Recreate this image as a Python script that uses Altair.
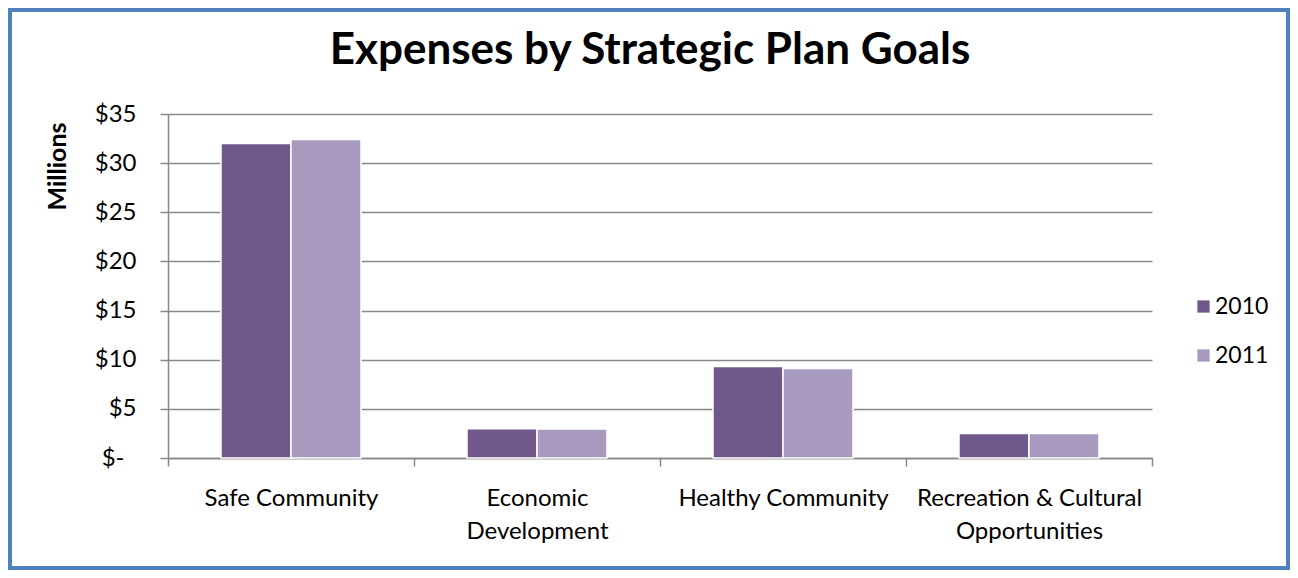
import altair as alt
import pandas as pd

categories = ["Safe Community", "Economic Development", "Healthy Community",
              "Recreation & Cultural Opportunities"]
label_lines = [["Safe Community"], ["Economic", "Development"], ["Healthy Community"],
               ["Recreation & Cultural", "Opportunities"]]
years = ["2010", "2011"]
values_2010 = [32.0, 2.97, 9.3, 2.5]
values_2011 = [32.4, 2.94, 9.1, 2.5]
y_ticks = [0, 5, 10, 15, 20, 25, 30, 35]
colors = ["#70588C", "#A89ABE"]

rows = []
for c, a, b in zip(categories, values_2010, values_2011):
    rows.append({"goal": c, "year": years[0], "value": a})
    rows.append({"goal": c, "year": years[1], "value": b})
df = pd.DataFrame(rows)

FONT = "Lato"
GRAY = "#888888"

# label expression for multi-line category labels
parts = []
for c, lines in zip(categories, label_lines):
    arr = "[" + ",".join("'" + l.replace("'", "\\'") + "'" for l in lines) + "]"
    parts.append(f"datum.label == '{c}' ? {arr} : ")
x_label_expr = "".join(parts) + "datum.label"

SP = "\u2002\u200b"

bars = alt.Chart(df).mark_bar(stroke="white", strokeWidth=1.5).encode(
    x=alt.X("goal:N", sort=categories,
            scale=alt.Scale(paddingInner=0, paddingOuter=0),
            axis=alt.Axis(title=None, labelAngle=0, labelFont=FONT, labelFontSize=24,
                          labelColor="#000000", labelPadding=20, labelLineHeight=33,
                          labelLimit=400, labelExpr=x_label_expr,
                          domainColor=GRAY, domainWidth=1.5, tickColor=GRAY,
                          tickWidth=1.5, tickSize=8, tickBand="extent", grid=False,
                          gridOpacity=0)),
    xOffset=alt.XOffset("year:N", sort=years,
                        scale=alt.Scale(paddingInner=0, paddingOuter=0.757)),
    y=alt.Y("value:Q", scale=alt.Scale(domain=[0, 35], nice=False),
            axis=alt.Axis(values=y_ticks, title="Millions",
                          labelExpr=f"datum.value == 0 ? '$-{SP}' : '$' + datum.value",
                          labelFont=FONT, labelFontSize=24, labelColor="#000000",
                          labelPadding=24, tickSize=8, tickColor=GRAY, tickWidth=1.5,
                          domainColor=GRAY, domainWidth=1.5,
                          grid=True, gridColor=GRAY, gridWidth=1.5,
                          titleFont=FONT, titleFontSize=25, titleFontWeight="bold",
                          titleColor="#000000", titleAngle=270, titleX=-111, titleY=52,
                          titleAlign="center", titleBaseline="middle")),
    color=alt.Color("year:N", sort=years,
                    scale=alt.Scale(domain=years, range=colors),
                    legend=alt.Legend(title=None, orient="none", legendX=1024, legendY=181,
                                      symbolType="square", symbolSize=150,
                                      symbolStrokeWidth=0, labelFont=FONT,
                                      labelFontSize=23, labelColor="#000000",
                                      labelOffset=0, rowPadding=25)),
)

border = alt.Chart(alt.Data(values=[{}])).mark_rect(
    filled=False, stroke="#4F81BD", strokeWidth=4
).encode(x=alt.value(-158), x2=alt.value(1120), y=alt.value(-104), y2=alt.value(454))

chart = alt.layer(bars, border).properties(
    width=984, height=344,
    autosize=alt.AutoSizeParams(type="none"),
    padding={"left": 160, "top": 106, "right": 138, "bottom": 112},
    view=alt.ViewBackground(stroke="transparent", strokeWidth=0),
    title=alt.Title("Expenses by Strategic Plan Goals", font=FONT, fontSize=44,
                    fontWeight="bold", color="#000000", anchor="middle", dx=-10,
                    baseline="alphabetic", offset=-100),
).configure_view(stroke="transparent", strokeOpacity=0).configure(background="white")

chart.save("out.html", embed_options={"renderer": "svg", "actions": False})
